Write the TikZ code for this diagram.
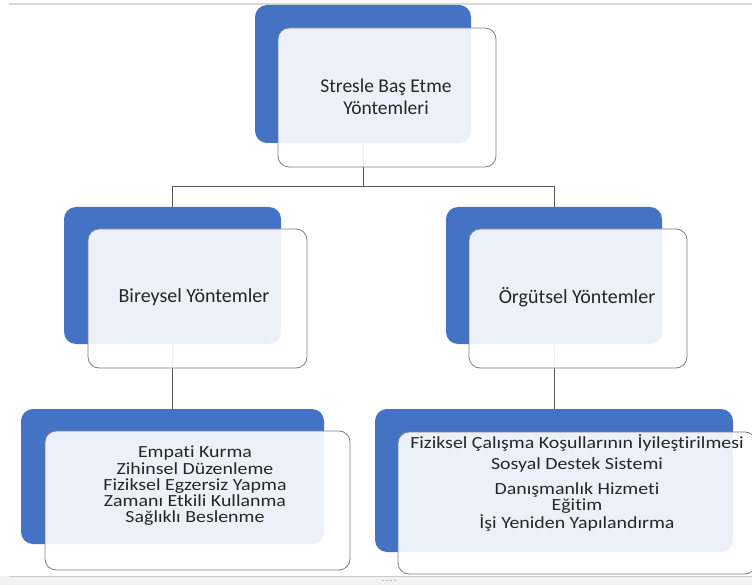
\documentclass[tikz,border=0pt]{standalone}
\usepackage{fontspec}
\setmainfont{Carlito}[Ligatures={NoCommon, NoRequired}]
\usetikzlibrary{backgrounds}

\definecolor{accent}{HTML}{4472C4}
\definecolor{edgegray}{HTML}{75808E}
\definecolor{wire}{HTML}{595959}
\definecolor{ink}{HTML}{262626}

\tikzset{
  back/.style={draw=none, fill=accent, rounded corners=12pt, inner sep=0pt},
  front/.style={draw=edgegray, line width=0.8pt, fill=white, fill opacity=0.9,
                rounded corners=11pt, inner sep=0pt},
  txt/.style={align=center, text=ink, inner sep=0pt},
  conn/.style={draw=wire, line width=0.8pt},
}

\begin{document}
\begin{tikzpicture}
    [x=1pt, y=-1pt]

    \useasboundingbox (0, 0) rectangle (752, 585);

    % window frame
    \draw [gray!30, line width=2pt] (9, 4) -- (752, 4);
    \fill [gray!10] (0, 576) rectangle (752, 585);
    \draw [gray!40, line width=0.6pt] (9, 576) -- (752, 576);
    \foreach \i in {0, 1, 2, 3}
      \fill [gray!60] (383 + 4*\i, 580.5) circle (0.8);

    % back boxes
    \node [back, minimum width=216, minimum height=138] at (363,   74)   (b0) {};
    \node [back, minimum width=217, minimum height=137] at (172.5, 275.5) (b1) {};
    \node [back, minimum width=216, minimum height=137] at (554,   275.5) (b2) {};
    \node [back, minimum width=303, minimum height=135] at (172.5, 476.5) (b3) {};
    \node [back, minimum width=358, minimum height=143] at (554,   480.5) (b4) {};

    % front boxes
    \node [front, minimum width=218, minimum height=139] at (387,   97.5)  (f0) {};
    \node [front, minimum width=219, minimum height=139] at (197.5, 298.5) (f1) {};
    \node [front, minimum width=218, minimum height=139] at (578,   298.5) (f2) {};
    \node [front, minimum width=305, minimum height=139] at (197.5, 500.5) (f3) {};
    \node [front, minimum width=358, minimum height=142] at (577,   503)   (f4) {};

    % texts
    \node [txt, font={\fontsize{19.5}{22}\selectfont}] at (386, 97) (t0)
      {Stresle Baş Etme\\Yöntemleri};
    \node [txt, font={\fontsize{20}{23}\selectfont}] at (194, 297) (t1)
      {Bireysel Yöntemler};
    \node [txt, font={\fontsize{20}{23}\selectfont}] at (577, 297) (t2)
      {Örgütsel Yöntemler};
    \node [txt, font={\fontsize{17}{16.3}\selectfont\addfontfeature{FakeStretch=1.17}}]
      at (195, 486) (t3)
      {Empati Kurma\\Zihinsel Düzenleme\\Fiziksel Egzersiz Yapma\\
       Zamanı Etkili Kullanma\\Sağlıklı Beslenme};
    \node [txt, font={\fontsize{17}{16.3}\selectfont\addfontfeature{FakeStretch=1.17}}]
      at (577, 483) (t4)
      {Fiziksel Çalışma Koşullarının İyileştirilmesi\\[4.4pt]
       Sosyal Destek Sistemi\\[8.7pt]
       Danışmanlık Hizmeti\\[0.4pt]
       Eğitim\\
       İşi Yeniden Yapılandırma};

    % connectors
    \coordinate (j0) at (363, 186);
    \begin{pgfonlayer}{background}
      \draw [conn] (b0) -- (j0) -| (b1);
      \draw [conn] (j0) -| (b2);
      \draw [conn] (b1) -- (b3);
      \draw [conn] (b2) -- (b4);
    \end{pgfonlayer}

  \end{tikzpicture}
\end{document}
